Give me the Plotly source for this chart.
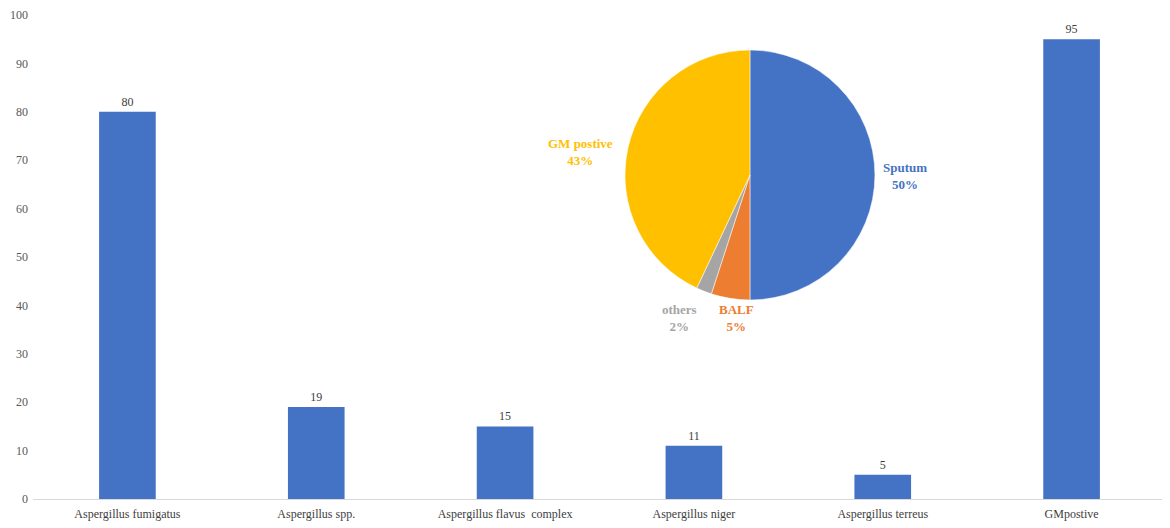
import plotly.graph_objects as go

# bar data
species = ["Aspergillus fumigatus", "Aspergillus spp.", "Aspergillus flavus  complex",
           "Aspergillus niger", "Aspergillus terreus", "GMpostive"]
counts = [80, 19, 15, 11, 5, 95]

# pie data
sample_labels = ["Sputum", "BALF", "others", "GM postive"]
sample_share = [50, 5, 2, 43]
pie_colors = ["#4472C4", "#ED7D31", "#A5A5A5", "#FFC000"]
# where each pie label sits (paper coords), same order as sample_labels
label_pos = [(0.770, 0.667), (0.621, 0.374), (0.571, 0.374), (0.483, 0.717)]

SERIF = "Liberation Serif, Times New Roman, serif"

fig = go.Figure()

fig.add_trace(go.Bar(
    x=species, y=counts, width=0.3,
    marker=dict(color="#4472C4", line=dict(width=0)),
    text=counts, textposition="outside", cliponaxis=False,
    textfont=dict(family=SERIF, size=12, color="#404040"),
    showlegend=False,
))

fig.add_trace(go.Pie(
    labels=sample_labels, values=sample_share,
    sort=False, direction="clockwise", rotation=0,
    marker=dict(colors=pie_colors, line=dict(color="white", width=0.5)),
    textinfo="none", hoverinfo="label+percent",
    domain=dict(x=[0.5225, 0.7431], y=[0.4111, 0.9277]),
    showlegend=False,
))

# pie labels, no leader lines as in the original
for lab, val, col, (px, py) in zip(sample_labels, sample_share, pie_colors, label_pos):
    fig.add_annotation(
        x=px, y=py, xref="paper", yref="paper", showarrow=False,
        xanchor="center", yanchor="middle",
        text=f"<b>{lab}<br>{val}%</b>", align="center",
        font=dict(family=SERIF, size=13, color=col),
    )

# page body has an 8px margin, so size the figure to fill the rest
fig.update_layout(
    width=1162, height=520,
    margin=dict(l=25, r=4, t=7, b=29),
    plot_bgcolor="white", paper_bgcolor="white",
    font=dict(family=SERIF, size=12, color="#595959"),
    bargap=0.7,
)
fig.update_yaxes(range=[0, 100], dtick=10, showgrid=False, zeroline=False,
                 showline=False, ticks="", automargin=False, ticklabelstandoff=4,
                 ticklabeloverflow="allow",
                 tickfont=dict(size=12, color="#595959"))
fig.update_xaxes(showline=True, linecolor="#D9D9D9", linewidth=1, ticks="",
                 automargin=False, ticklabelstandoff=4,
                 tickfont=dict(size=12, color="#404040"))

fig.write_html("out.html")
